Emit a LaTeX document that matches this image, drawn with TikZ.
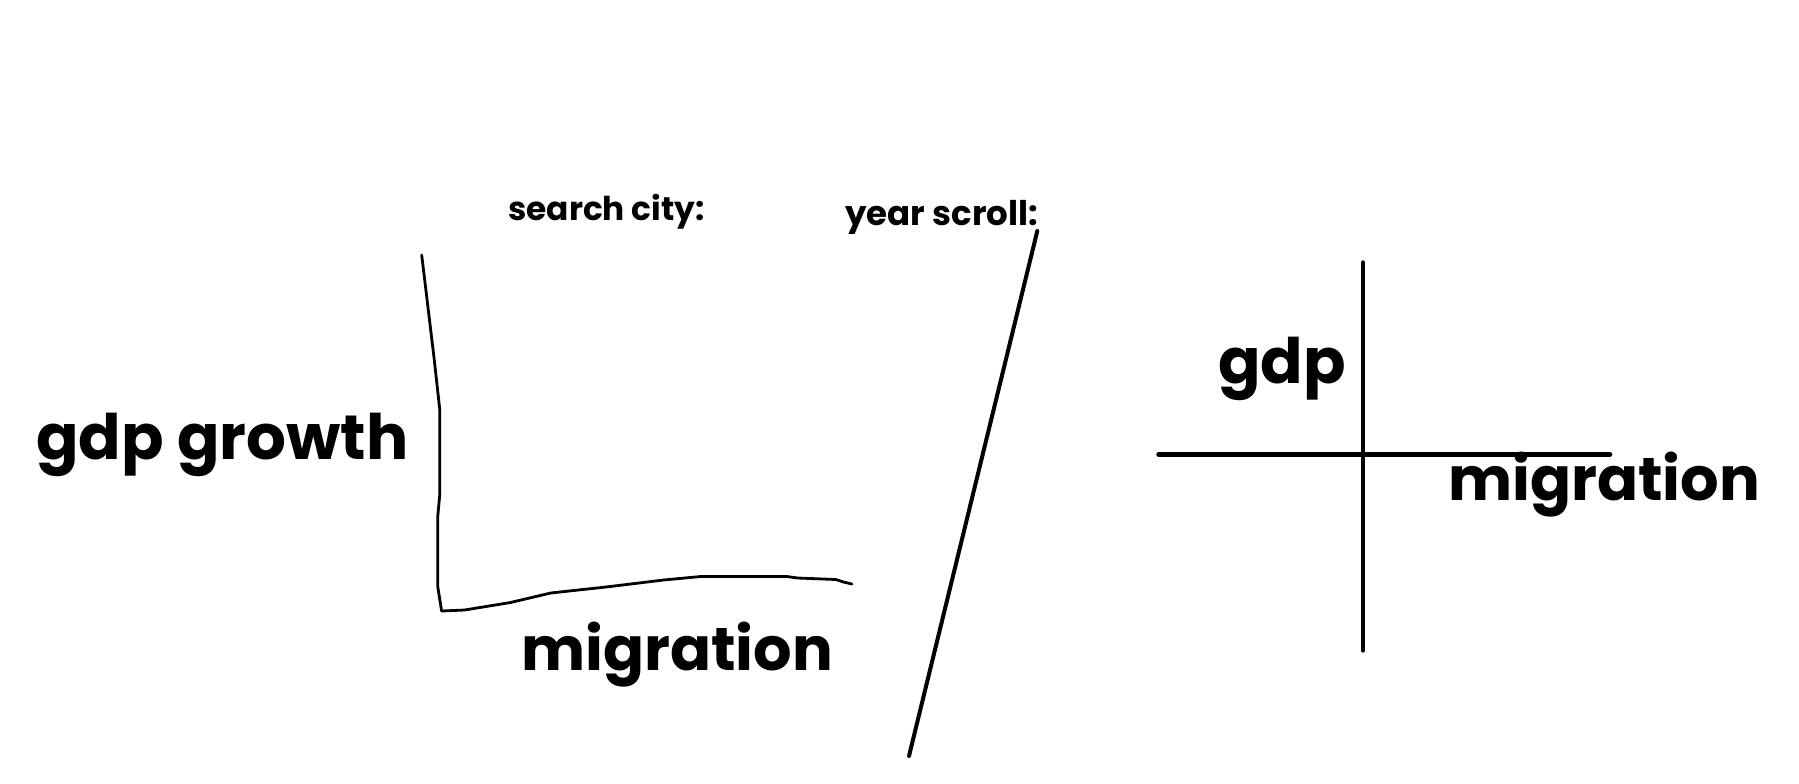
\documentclass[tikz,border=0pt]{standalone}
\usepackage{fontspec}
\setmainfont{Poppins}
\begin{document}
\begin{tikzpicture}[x=0.75pt,y=-0.75pt,
  bigtxt/.style={anchor=base west,inner sep=0pt,font=\fontsize{47pt}{50pt}\selectfont\bfseries},
  migtxt/.style={anchor=base west,inner sep=0pt,font=\fontsize{45.4pt}{48pt}\selectfont\bfseries},
  smalltxt/.style={anchor=base west,inner sep=0pt,font=\fontsize{25.5pt}{28pt}\selectfont\bfseries},
  searchtxt/.style={anchor=base west,inner sep=0pt,font=\fontsize{24.6pt}{27pt}\selectfont\bfseries},
  thinline/.style={line width=2.1pt,line cap=round,line join=round},
  slashline/.style={line width=3pt,line cap=round,line join=round},
  thickline/.style={line width=3.5pt,line cap=round,line join=round}]
\useasboundingbox (0,0) rectangle (1799,783);
\fill[white] (0,0) rectangle (1799,783);
% labels
\node[searchtxt] (search) at (508,220.5) {search city:};
\node[smalltxt] (year) at (845,225.5) {year scroll:};
\node[bigtxt] (gdpgrowth) at (36,459) {gdp growth};
\node[migtxt] (migbottom) at (521,670.6) {migration};
\node[bigtxt] (gdp) at (1218,383) {gdp};
\node[migtxt] (migright) at (1448,500.7) {migration};
% left hand-drawn axes
\coordinate (ytop) at (421.7,255);
\coordinate (corner) at (441.6,611);
\coordinate (xend) at (851.9,584);
\draw[thinline] (ytop) -- (434,357.5) -- (439.7,409) -- (439.7,495) -- (437.8,516)
  -- (437.8,587) -- (corner) -- (464.6,610) -- (510.5,602.5) -- (550.7,593)
  -- (606,587) -- (663.6,580) -- (701.8,576.4) -- (786,576.4) -- (797.5,578)
  -- (835.8,579.5) -- (843.4,582) -- (xend);
% year scroll slash
\coordinate (stop) at (1037.3,231);
\coordinate (sbot) at (909,756);
\draw[slashline] (stop) -- (sbot);
% right cross axes
\coordinate (vtop) at (1363,262.6);
\coordinate (vbot) at (1363,650.3);
\coordinate (hleft) at (1158.6,454.3);
\coordinate (hright) at (1610,454.3);
\draw[thickline] (vtop) -- (vbot);
\draw[thickline] (hleft) -- (hright);
\end{tikzpicture}
\end{document}
